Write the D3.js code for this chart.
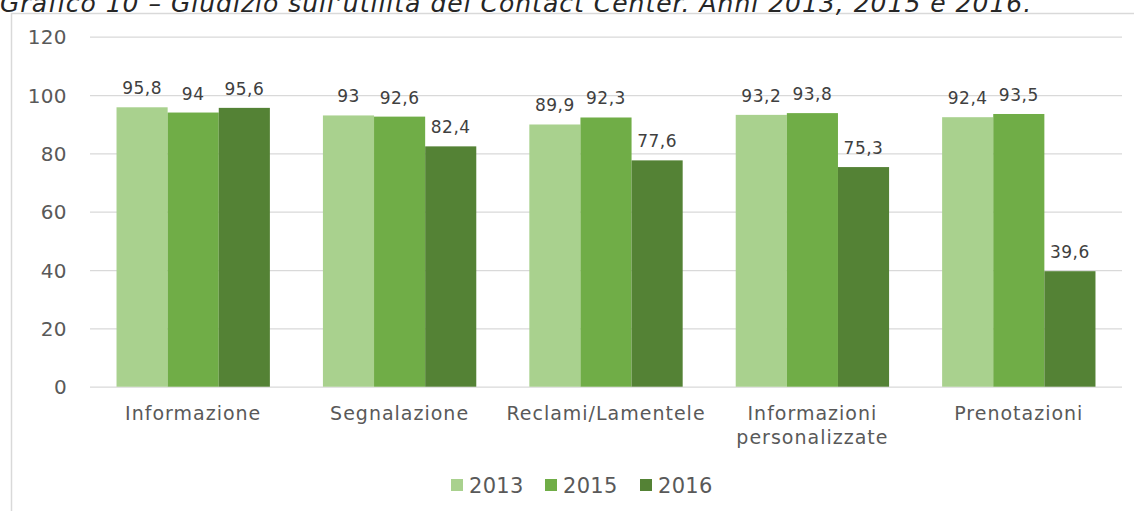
<!DOCTYPE html>
<html>
<head>
<meta charset="utf-8">
<script src="https://cdn.jsdelivr.net/npm/d3@7"></script>
<style>
  html, body { margin: 0; padding: 0; background: #ffffff; }
  svg { display: block; }
  text { font-family: Verdana, "DejaVu Sans", sans-serif; }
</style>
</head>
<body>
<svg id="chart" width="1134" height="511"></svg>
<script>
// Giudizio sull'utilità del Contact Center, per tipo di richiesta e anno
const categories = ["Informazione", "Segnalazione", "Reclami/Lamentele", "Informazioni personalizzate", "Prenotazioni"];
const categoryLines = [["Informazione"], ["Segnalazione"], ["Reclami/Lamentele"], ["Informazioni", "personalizzate"], ["Prenotazioni"]];
const years = ["2013", "2015", "2016"];
const values2013 = [95.8, 93, 89.9, 93.2, 92.4];
const values2015 = [94, 92.6, 92.3, 93.8, 93.5];
const values2016 = [95.6, 82.4, 77.6, 75.3, 39.6];
const yTicks = [0, 20, 40, 60, 80, 100, 120];
const colors = ["#A9D18E", "#70AD47", "#548235"];
const titleText = "Grafico 10 – Giudizio sull'utilità del Contact Center. Anni 2013, 2015 e 2016.";

const series = [values2013, values2015, values2016];
const rows = categories.map((c, i) => ({
  category: c,
  lines: categoryLines[i],
  values: years.map((y, j) => ({ year: y, value: series[j][i], idx: j }))
}));

const svg = d3.select("#chart");

// outer frame of the chart area
svg.append("rect")
  .attr("x", 11.5).attr("y", 13.5)
  .attr("width", 1140).attr("height", 520)
  .attr("fill", "#ffffff")
  .attr("stroke", "#d9d9d9")
  .attr("stroke-width", 1.5);

// caption above the frame
svg.append("text")
  .attr("x", 0).attr("y", 12)
  .attr("font-size", 25)
  .attr("letter-spacing", 1)
  .attr("font-style", "italic")
  .attr("fill", "#262626")
  .text(titleText);

const plot = { left: 90, right: 1122, top: 36.7, bottom: 386.7 };

const x = d3.scaleBand().domain(categories).range([plot.left, plot.right]).paddingInner(0).paddingOuter(0);
const groupWidth = x.bandwidth() * 0.743;
const xInner = d3.scaleBand().domain(years).range([0, groupWidth]).padding(0);
const y = d3.scaleLinear().domain([0, 120]).range([plot.bottom, plot.top]);

// horizontal gridlines and y-axis labels
const yAxis = d3.axisLeft(y).tickValues(yTicks).tickSize(-(plot.right - plot.left)).tickPadding(23);
const gy = svg.append("g").attr("transform", `translate(${plot.left},0)`).call(yAxis);
gy.select(".domain").remove();
gy.selectAll(".tick line").attr("stroke", "#d9d9d9").attr("stroke-width", 1.3);
gy.selectAll(".tick text")
  .attr("font-size", 20)
  .attr("fill", "#595959")
  .attr("letter-spacing", 0.4)
  .attr("font-family", "Verdana, 'DejaVu Sans', sans-serif")
  .attr("dy", "0.36em");

// bars
const groups = svg.append("g").selectAll("g.cat")
  .data(rows).join("g")
  .attr("class", "cat")
  .attr("transform", d => `translate(${x(d.category) + (x.bandwidth() - groupWidth) / 2},0)`);

groups.selectAll("rect")
  .data(d => d.values).join("rect")
  .attr("x", d => xInner(d.year))
  .attr("y", d => y(d.value))
  .attr("width", xInner.bandwidth())
  .attr("height", d => y(0) - y(d.value))
  .attr("fill", d => colors[d.idx]);

// value labels
groups.selectAll("text.val")
  .data(d => d.values).join("text")
  .attr("class", "val")
  .attr("x", d => xInner(d.year) + xInner.bandwidth() / 2)
  .attr("y", d => y(d.value) - 13)
  .attr("text-anchor", "middle")
  .attr("font-size", 17)
  .attr("letter-spacing", 0.5)
  .attr("fill", "#404040")
  .text(d => String(d.value).replace(".", ","));

// category labels
const xl = svg.append("g").selectAll("text.cat")
  .data(rows).join("text")
  .attr("class", "cat")
  .attr("x", d => x(d.category) + x.bandwidth() / 2)
  .attr("y", 420)
  .attr("text-anchor", "middle")
  .attr("font-size", 19)
  .attr("letter-spacing", 1)
  .attr("fill", "#595959");
xl.selectAll("tspan")
  .data(d => d.lines.map((l, i) => ({ l, i, cx: x(d.category) + x.bandwidth() / 2 })))
  .join("tspan")
  .attr("x", d => d.cx)
  .attr("dy", d => d.i === 0 ? 0 : 24)
  .text(d => d.l);

// legend
const legendX = [451, 545, 640];
const legend = svg.append("g").selectAll("g.leg")
  .data(years).join("g")
  .attr("class", "leg")
  .attr("transform", (d, i) => `translate(${legendX[i]},485)`);
legend.append("rect")
  .attr("x", 0).attr("y", -6)
  .attr("width", 12).attr("height", 12)
  .attr("fill", (d, i) => colors[i]);
legend.append("text")
  .attr("x", 18).attr("y", 7.5)
  .attr("font-size", 21)
  .attr("letter-spacing", 0.3)
  .attr("fill", "#595959")
  .text(d => d);
</script>
</body>
</html>
